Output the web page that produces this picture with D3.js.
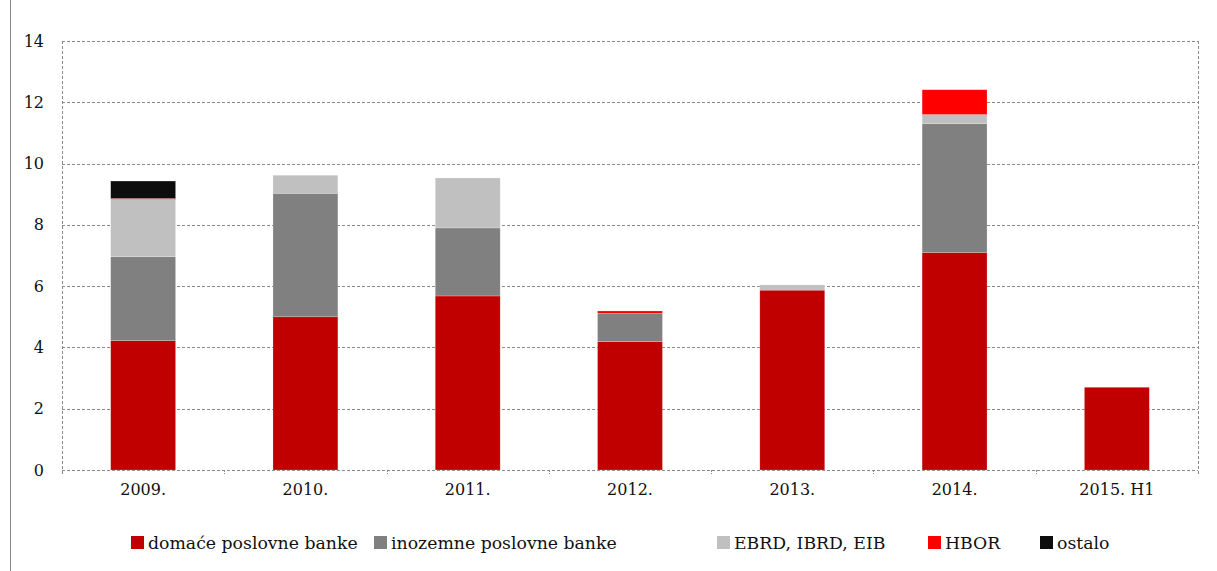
<!DOCTYPE html>
<html>
<head>
<meta charset="utf-8">
<script src="https://cdn.jsdelivr.net/npm/d3@7"></script>
<style>
    body { margin: 0; background: #fff; }
    svg text { font-family: "DejaVu Serif", "Liberation Serif", "Noto Serif", serif !important; }
</style>
</head>
<body>
<div id="chart"></div>
<script>
// categories and series
const years = ["2009.", "2010.", "2011.", "2012.", "2013.", "2014.", "2015. H1"];
const seriesNames = ["domaće poslovne banke", "inozemne poslovne banke", "EBRD, IBRD, EIB", "HBOR", "ostalo"];
const colors = ["#c00000", "#808080", "#c0c0c0", "#ff0000", "#0d0d0d"];

const domace = [4.22, 5.00, 5.68, 4.19, 5.87, 7.10, 2.70];
const inozemne = [2.74, 4.03, 2.22, 0.92, 0, 4.20, 0];
const ebrd = [1.87, 0.59, 1.63, 0, 0.17, 0.30, 0];
const hbor = [0.03, 0, 0, 0.08, 0, 0.81, 0];
const ostalo = [0.57, 0, 0, 0, 0, 0, 0];

const yTicks = [0, 2, 4, 6, 8, 10, 12, 14];

const width = 1217, height = 571;
const margin = {top: 41, right: 19, bottom: 101, left: 62};

// build rows for d3.stack
const rows = years.map(function(y, i) {
    return {
        year: y,
        s0: domace[i], s1: inozemne[i], s2: ebrd[i], s3: hbor[i], s4: ostalo[i]
    };
});
const keys = ["s0", "s1", "s2", "s3", "s4"];
const stacked = d3.stack().keys(keys)(rows);

const xScale = d3.scaleBand()
    .domain(years)
    .range([margin.left, width - margin.right])
    .paddingInner(0.6)
    .paddingOuter(0.3);

const xEdges = d3.scaleBand()
    .domain(years)
    .range([margin.left, width - margin.right]);

const yScale = d3.scaleLinear()
    .domain([0, 14])
    .range([height - margin.bottom, margin.top]);

let svg = d3.select("#chart")
    .append("svg")
    .attr("width", width)
    .attr("height", height);

// frame line on the left
svg.append("line")
    .attr("x1", 10.5).attr("x2", 10.5)
    .attr("y1", 0).attr("y2", height)
    .attr("stroke", "#8c8c8c")
    .attr("stroke-width", 1);

// horizontal gridlines
svg.append("g")
    .selectAll("line")
    .data(yTicks)
    .join("line")
    .attr("x1", margin.left)
    .attr("x2", width - margin.right)
    .attr("y1", d => Math.round(yScale(d)) + 0.5)
    .attr("y2", d => Math.round(yScale(d)) + 0.5)
    .attr("stroke", "#8a8a8a")
    .attr("stroke-dasharray", "3,2");

// vertical dashed borders of plot area
[margin.left, width - margin.right].forEach(function(x) {
    svg.append("line")
        .attr("x1", x + 0.5).attr("x2", x + 0.5)
        .attr("y1", margin.top).attr("y2", height - margin.bottom + 4)
        .attr("stroke", "#8a8a8a")
        .attr("stroke-dasharray", "3,2");
});

// category tick marks
svg.append("g")
    .selectAll("line")
    .data(years.slice(1))
    .join("line")
    .attr("x1", d => Math.round(xEdges(d)) + 0.5)
    .attr("x2", d => Math.round(xEdges(d)) + 0.5)
    .attr("y1", height - margin.bottom)
    .attr("y2", height - margin.bottom + 4)
    .attr("stroke", "#8a8a8a")
    .attr("stroke-dasharray", "2,1");

// y tick labels
const yAxis = svg.append("g")
    .attr("transform", `translate(${margin.left - 12},0)`)
    .call(d3.axisLeft(yScale).tickValues(yTicks).tickSize(0).tickPadding(6));
yAxis.select(".domain").remove();
yAxis.selectAll("text")
    .attr("font-size", 16)
    .attr("fill", "#111");

// x tick labels
const xAxis = svg.append("g")
    .attr("transform", `translate(0,${height - margin.bottom})`)
    .call(d3.axisBottom(xScale).tickSize(0).tickPadding(14));
xAxis.select(".domain").remove();
xAxis.selectAll("text")
    .attr("font-size", 16)
    .attr("fill", "#111");

// stacked bars
svg.append("g")
    .selectAll("g")
    .data(stacked)
    .join("g")
    .attr("fill", (d, i) => colors[i])
    .selectAll("rect")
    .data(d => d.filter(p => p[1] - p[0] > 0))
    .join("rect")
    .attr("x", d => xScale(d.data.year))
    .attr("width", xScale.bandwidth())
    .attr("y", d => yScale(d[1]))
    .attr("height", d => yScale(d[0]) - yScale(d[1]))
    .attr("stroke", "#ffffff")
    .attr("stroke-opacity", 0.35)
    .attr("stroke-width", 0.6);

// legend
const legendX = [131, 374, 717, 928, 1040];
const legend = svg.append("g")
    .selectAll("g")
    .data(seriesNames)
    .join("g")
    .attr("transform", (d, i) => `translate(${legendX[i]},536)`);

legend.append("rect")
    .attr("width", 13)
    .attr("height", 13)
    .attr("fill", (d, i) => colors[i]);

legend.append("text")
    .attr("x", 17)
    .attr("y", 13)
    .attr("font-size", 17.3)
    .attr("fill", "#111")
    .text(d => d);
</script>
</body>
</html>
